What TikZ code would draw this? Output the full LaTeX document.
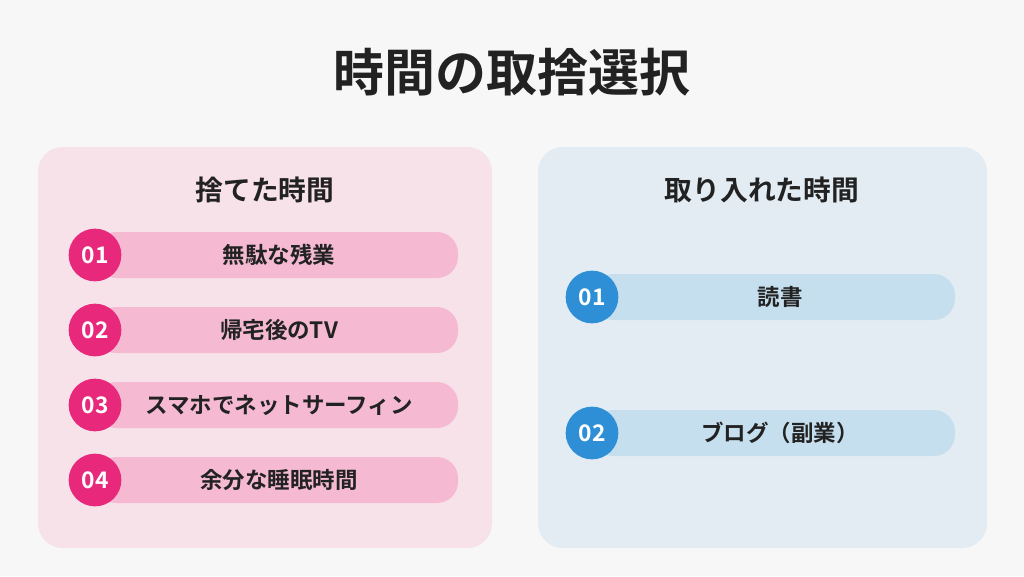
\documentclass[tikz,border=0pt]{standalone}
\usepackage{fontspec}
\setmainfont{Noto Sans CJK JP}[BoldFont={* Bold}]
\definecolor{pagebg}{HTML}{F7F7F7}
\definecolor{pinkpanel}{HTML}{F8E2EA}
\definecolor{pinkpill}{HTML}{F5BAD2}
\definecolor{pinkdot}{HTML}{E8287A}
\definecolor{bluepanel}{HTML}{E3ECF3}
\definecolor{bluepill}{HTML}{C6DFEF}
\definecolor{bluedot}{HTML}{2E8FD6}
\definecolor{ink}{HTML}{222222}
\tikzset{
	panel/.style={rounded corners=14pt},
	pill/.style={rounded corners=12pt},
	dot/.style={circle, minimum size=16pt, inner sep=0pt, text=white, font=\bfseries\fontsize{13}{13}\selectfont},
	item/.style={text=ink, font=\bfseries\fontsize{12.8}{13}\selectfont},
	head/.style={text=ink, font=\bfseries\fontsize{15.8}{16}\selectfont}
}
\begin{document}
\begin{tikzpicture}[x=0.02cm, y=-0.02cm]
	\fill[pagebg] (0,0) rectangle (1024,576);
	\node [text=ink, font=\bfseries\fontsize{29}{30}\selectfont] (title) at (512,72) {時間の取捨選択};

	% left panel
	\fill[pinkpanel, panel] (38,147) rectangle (492,548);
	\node [head] (lhead) at (265,190) {捨てた時間};
	\foreach \y/\n/\t in {255/01/無駄な残業, 330/02/帰宅後のTV, 405/03/スマホでネットサーフィン, 480/04/余分な睡眠時間} {
		\fill[pinkpill, pill] (95,\y-23) rectangle (458,\y+23);
		\node [dot, fill=pinkdot, minimum size=30pt] (l\n) at (95,\y) {\n};
		\node [item] (lt\n) at (279,\y) {\t};
	}

	% right panel
	\fill[bluepanel, panel] (538,147) rectangle (987,548);
	\node [head] (rhead) at (762,190) {取り入れた時間};
	\foreach \y/\n/\t in {297/01/読書, 433/02/ブログ（副業）} {
		\fill[bluepill, pill] (592,\y-23) rectangle (955,\y+23);
		\node [dot, fill=bluedot, minimum size=30pt] (r\n) at (592,\y) {\n};
		\node [item] (rt\n) at (780,\y) {\t};
	}
\end{tikzpicture}
\end{document}
